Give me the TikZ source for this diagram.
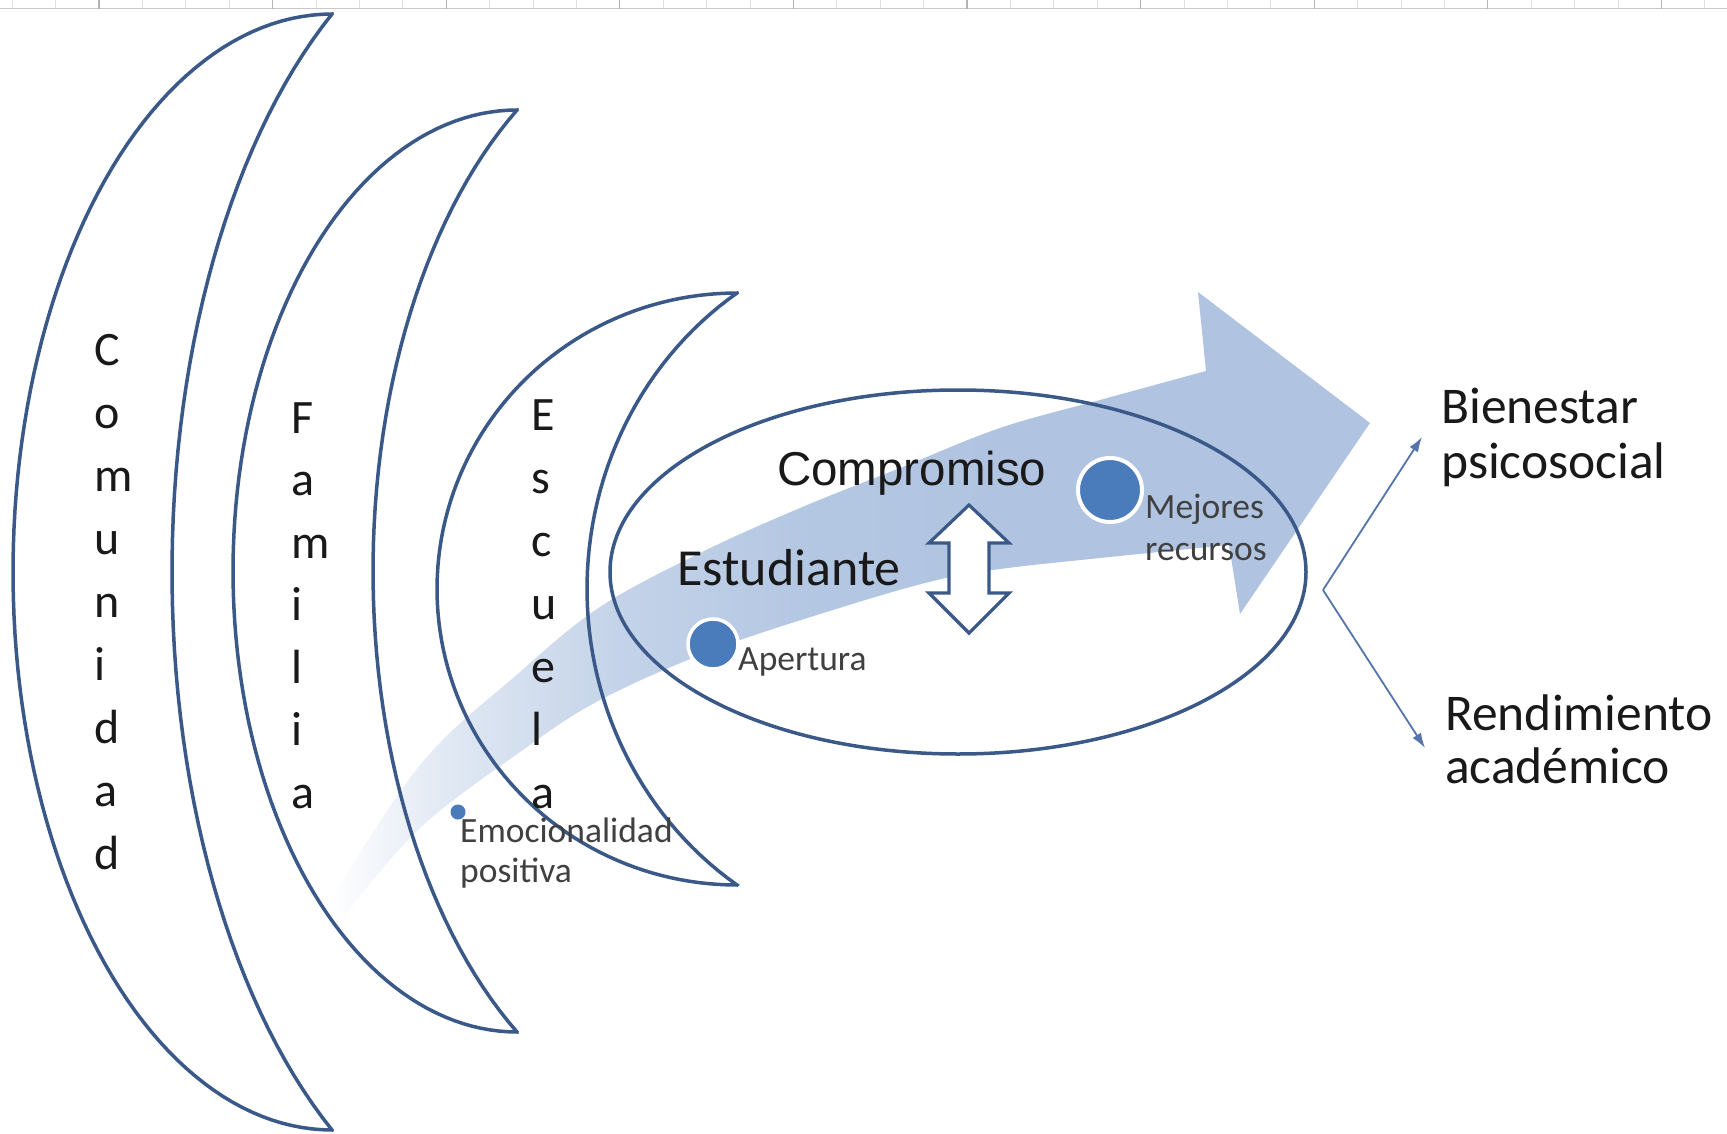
\documentclass[tikz,border=0pt]{standalone}
\usepackage{fontspec}
\setmainfont{Carlito}
\newfontfamily\arialfont{Liberation Sans}
\usetikzlibrary{arrows.meta}
\definecolor{outl}{RGB}{58,88,136}
\definecolor{bandc}{RGB}{176,196,225}
\definecolor{dotc}{RGB}{74,124,187}
\definecolor{branchc}{RGB}{84,116,170}
\definecolor{txt}{RGB}{25,25,25}
\definecolor{smalltxt}{RGB}{64,64,64}
\pgfdeclarehorizontalshading{bandshade}{100bp}{color(0bp)=(white); color(25bp)=(white); color(31bp)=(bandc!40!white); color(39bp)=(bandc!75!white); color(48bp)=(bandc!95!white); color(57bp)=(bandc); color(100bp)=(bandc)}
\tikzset{
  cres/.style={draw=outl, line width=3.5pt},
  ovalline/.style={draw=outl, line width=3.5pt},
  dblarrow/.style={draw=outl, line width=3.2pt, fill=white, line join=miter},
  dotbig/.style={circle, fill=dotc, draw=white, line width=4pt, inner sep=0pt},
  dotsmall/.style={circle, fill=dotc, inner sep=0pt},
  vletter/.style={anchor=base west, inner sep=0pt, text=txt, font=\fontsize{48}{58}\selectfont},
  biglabel/.style={anchor=base west, inner sep=0pt, text=txt, font=\fontsize{51.5}{60}\selectfont},
  smalllabel/.style={anchor=base west, inner sep=0pt, text=smalltxt, font=\fontsize{35.5}{42}\selectfont},
  branch/.style={draw=branchc, line width=1.8pt, -{Latex[length=15pt,width=10pt]}},
  gridline/.style={draw=black!22, line width=1pt}
}
\begin{document}
\begin{tikzpicture}[x=1pt, y=-1pt]
\useasboundingbox (0,0) rectangle (1727,1134);
\fill[white] (0,0) rectangle (1727,1134);
% faint spreadsheet grid at the top
\draw[gridline] (0,9) -- (1727,9);
\foreach \k in {0,...,39} \draw[draw=black!12, line width=0.8pt] ({12.2+43.4*\k},0) -- ++(0,8);
\foreach \k in {0,...,9} \draw[draw=black!30, line width=1.2pt] ({99+173.6*\k},0) -- ++(0,9);

% big curved shaded arrow
\shade[shading=bandshade]
  plot[smooth, tension=0.6] coordinates {(328,905) (420,765) (520,672) (600,607) (700,553) (800,508) (900,468) (1000,428) (1100,400) (1206,371)}
  -- (1198,292) -- (1370,423) -- (1240,614)
  -- plot[smooth, tension=0.6] coordinates {(1229,545) (1100,558) (1000,569) (933,581) (833,610) (713,650) (600,700) (520,752) (420,828) (345,915)}
  -- cycle;

% crescents
\draw[cres] plot[domain=270:90, samples=100, variable=\t] ({332+319*cos(\t)},{572+558*sin(\t)})
  -- plot[domain=123.75:236.25, samples=60, variable=\t] ({532+360*cos(\t)},{572+671.1*sin(\t)}) -- cycle;
\draw[cres] plot[domain=270:90, samples=100, variable=\t] ({517+284*cos(\t)},{571+461*sin(\t)})
  -- plot[domain=123.75:236.25, samples=60, variable=\t] ({697+324*cos(\t)},{571+554.4*sin(\t)}) -- cycle;
\draw[cres] plot[domain=270:90, samples=100, variable=\t] ({737+300*cos(\t)},{589+296*sin(\t)})
  -- plot[domain=123.75:236.25, samples=60, variable=\t] ({924.5+337.5*cos(\t)},{589+356*sin(\t)}) -- cycle;

% oval
\draw[ovalline] (958,572) ellipse [x radius=348, y radius=182];

% double arrow
\draw[dblarrow] (969,505) -- (1009,543) -- (989,543) -- (989,593) -- (1009,593) -- (969,633)
  -- (929,593) -- (949,593) -- (949,543) -- (929,543) -- cycle;

% dots
\node[dotbig, minimum size=50pt, line width=3.5pt] (dotAp) at (713,644) {};
\node[dotbig, minimum size=64pt] (dotMe) at (1110,490) {};
\node[dotsmall, minimum size=15pt] (dotEm) at (458,812) {};

% vertical words
\foreach \l [count=\i] in {C,o,m,u,n,i,d,a,d}
  \node[vletter] (com\i) at (94,{365+63*(\i-1)}) {\l};
\foreach \l [count=\i] in {F,a,m,i,l,i,a}
  \node[vletter] (fam\i) at (291,{433+62.5*(\i-1)}) {\l};
\foreach \l [count=\i] in {E,s,c,u,e,l,a}
  \node[vletter] (esc\i) at (531,{430+63*(\i-1)}) {\l};

% labels
\node[anchor=base west, inner sep=0pt, text=txt, font=\arialfont\fontsize{47.5}{55}\selectfont] (compromiso) at (777,485) {Compromiso};
\node[anchor=base west, inner sep=0pt, text=txt, font=\fontsize{52}{60}\selectfont] (estudiante) at (677,585) {Estudiante};
\node[smalllabel] (apertura) at (738,670) {Apertura};
\node[smalllabel] (mejores) at (1145,518) {Mejores};
\node[smalllabel] (recursos) at (1145,560) {recursos};
\node[smalllabel] (emocionalidad) at (460,842) {Emocionalidad};
\node[smalllabel] (positiva) at (460,882) {positiva};
\node[biglabel] (bienestar) at (1441,423) {Bienestar};
\node[biglabel] (psicosocial) at (1441,478) {psicosocial};
\node[biglabel] (rendimiento) at (1445,730) {Rendimiento};
\node[biglabel] (academico) at (1445,783) {académico};

% branching arrows
\coordinate (fork) at (1323,590);
\coordinate (upTip) at (1422,437);
\coordinate (downTip) at (1425,748);
\draw[branch] (fork) -- (upTip);
\draw[branch] (fork) -- (downTip);
\end{tikzpicture}
\end{document}
